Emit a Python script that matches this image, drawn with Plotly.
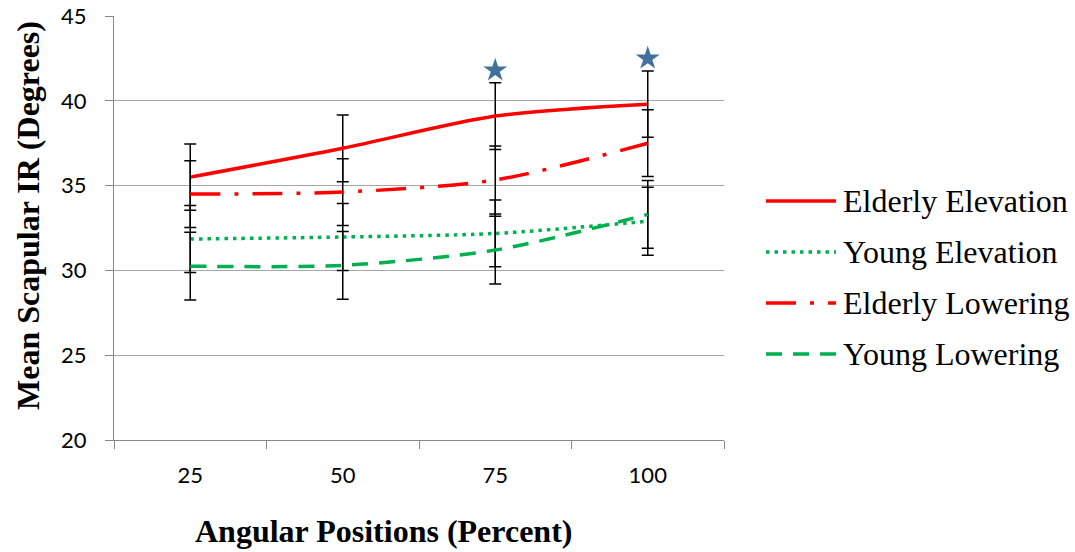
import plotly.graph_objects as go

categories = ["25", "50", "75", "100"]
elderly_elev = [35.5, 37.2, 39.1, 39.8]
elderly_elev_err = [1.95, 1.97, 1.97, 1.95]
young_elev = [31.85, 31.97, 32.18, 32.9]
young_elev_err = [1.97, 1.97, 1.97, 2.0]
elderly_low = [34.5, 34.62, 35.33, 37.5]
elderly_low_err = [1.97, 1.97, 2.0, 1.97]
young_low = [30.25, 30.3, 31.2, 33.3]
young_low_err = [2.0, 2.0, 2.0, 2.0]
star_x = ["75", "100"]
star_y = [41.8, 42.5]
y_ticks = [20, 25, 30, 35, 40, 45]

RED = "#FF0000"
GREEN = "#00B050"
series = [
    ("Elderly Elevation", elderly_elev, elderly_elev_err, RED, "solid"),
    ("Young Elevation", young_elev, young_elev_err, GREEN, "3.5px,5px"),
    ("Elderly Lowering", elderly_low, elderly_low_err, RED, "30px,14px,4px,14px"),
    ("Young Lowering", young_low, young_low_err, GREEN, "16px,11px"),
]

fig = go.Figure()
for name, ys, errs, col, dash in series:
    fig.add_trace(go.Scatter(
        x=categories, y=ys, name=name, mode="lines",
        line=dict(color=col, width=3.5, dash=dash, shape="spline", smoothing=0.8),
        error_y=dict(type="data", array=errs, visible=True, color="#000000",
                     thickness=1.5, width=6),
        showlegend=False,
    ))

fig.add_trace(go.Scatter(
    x=star_x, y=star_y, mode="markers",
    marker=dict(symbol="star", size=18, color="#41719C", line=dict(width=0)),
    showlegend=False,
))

# plot-area pixel geometry
L, R, T, B = 114, 724, 16, 440
W, H = R - L, B - T
def px(x):
    return (x - L) / W
def py(y):
    return (B - y) / H

SERIF = "Liberation Serif"
shapes = []
annotations = []
leg_y = [201, 252, 303, 354]
for (name, ys, errs, col, dash), yy in zip(series, leg_y):
    shapes.append(dict(type="line", xref="paper", yref="paper",
                       x0=px(766), x1=px(836), y0=py(yy), y1=py(yy),
                       line=dict(color=col, width=3.5, dash=dash)))
    annotations.append(dict(text=name, xref="paper", yref="paper",
                            x=px(841), y=py(yy), xanchor="left", yanchor="middle",
                            showarrow=False,
                            font=dict(family=SERIF, size=32, color="#000")))

annotations.append(dict(text="<b>Mean Scapular IR (Degrees)</b>", xref="paper", yref="paper",
                        x=px(28), y=py(216), textangle=-90, showarrow=False,
                        xanchor="center", yanchor="middle",
                        font=dict(family=SERIF, size=32, color="#000")))
annotations.append(dict(text="<b>Angular Positions (Percent)</b>", xref="paper", yref="paper",
                        x=px(383), y=py(531), showarrow=False,
                        xanchor="center", yanchor="middle",
                        font=dict(family=SERIF, size=32, color="#000")))

fig.update_layout(
    width=1075, height=552,
    margin=dict(l=L, r=1075 - R, t=T, b=552 - B, autoexpand=False),
    paper_bgcolor="white", plot_bgcolor="white",
    shapes=shapes, annotations=annotations,
    xaxis=dict(type="category", range=[-0.5, 3.5], tickson="boundaries",
               ticks="outside", ticklen=8,
               tickcolor="#888", showline=True, linecolor="#888", linewidth=1,
               showgrid=False, ticklabelstandoff=16,
               tickfont=dict(family="Lato", size=22, color="#000")),
    yaxis=dict(range=[20, 45], tickvals=y_ticks, ticks="outside", ticklen=8,
               tickcolor="#888", showline=True, linecolor="#888", linewidth=1,
               showgrid=True, gridcolor="#A6A6A6", gridwidth=1, zeroline=False,
               ticklabelstandoff=14,
               tickfont=dict(family="Lato", size=22, color="#000")),
)

fig.write_html("out.html")
